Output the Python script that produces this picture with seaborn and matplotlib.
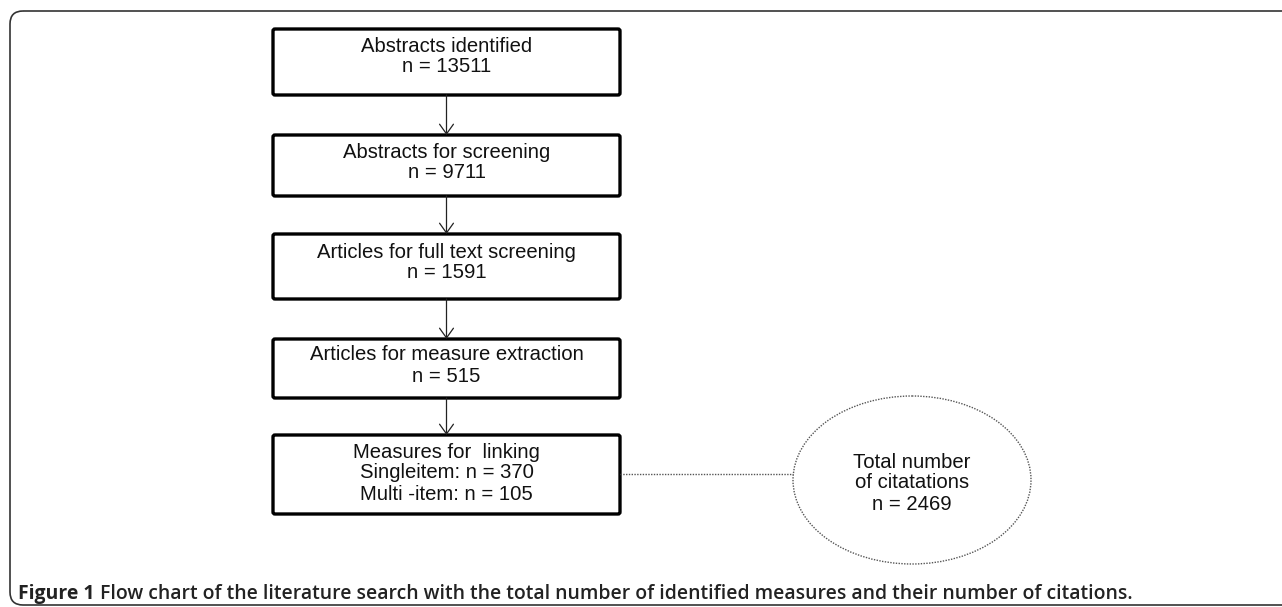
import seaborn as sns
import matplotlib.pyplot as plt
from matplotlib.patches import FancyBboxPatch, Ellipse

# flow chart content
stages = ["Abstracts identified", "Abstracts for screening",
          "Articles for full text screening", "Articles for measure extraction",
          "Measures for  linking"]
counts = [13511, 9711, 1591, 515]
single_item = 370
multi_item = 105
citations = 2469
caption_head = "Figure 1"
caption_body = ("Flow chart of the literature search with the total number of "
                "identified measures and their number of citations.")

# layout in pixel units (y down)
box_left, box_right = 273, 620
box_top = [29, 135, 234, 339, 435]
box_bottom = [95, 196, 299, 398, 514]
line_y = [[46, 67], [152, 173], [252, 273], [355, 377], [452, 473, 495]]
ell_cx, ell_cy, ell_w, ell_h = 912, 480, 238, 168
cap_left, cap_right = 18, 1130

sns.set_theme(style="white")
plt.rcParams['font.family'] = ['Liberation Sans', 'DejaVu Sans']

fig = plt.figure(figsize=(12.82, 6.07), dpi=100)
ax = fig.add_axes([0, 0, 1, 1])
ax.set_xlim(0, 1282)
ax.set_ylim(607, 0)
ax.axis('off')

# outer frame (open to the right / bottom)
frame = FancyBboxPatch((10, 11), 1400, 594, boxstyle="round,pad=0,rounding_size=13",
                       fill=False, ec='#333333', lw=1.2)
ax.add_patch(frame)

cx = (box_left + box_right) / 2
fs = 14.6
for i, label in enumerate(stages):
    rect = FancyBboxPatch((box_left, box_top[i]), box_right - box_left,
                          box_bottom[i] - box_top[i],
                          boxstyle="round,pad=0,rounding_size=2",
                          fill=False, ec='black', lw=2.4)
    ax.add_patch(rect)
    if i < len(counts):
        lines = [label, f"n = {counts[i]}"]
    else:
        lines = [label, f"Singleitem: n = {single_item}", f"Multi -item: n = {multi_item}"]
    for txt, y in zip(lines, line_y[i]):
        ax.text(cx, y, txt, ha='center', va='center', fontsize=fs, color='#111111')
    if i > 0:
        ax.annotate('', xy=(cx, box_top[i]), xytext=(cx, box_bottom[i - 1]),
                    arrowprops=dict(arrowstyle='->,head_length=7,head_width=5',
                                    mutation_scale=1, lw=0.9, color='#222222',
                                    shrinkA=0, shrinkB=0))

# dotted connector and ellipse
ax.plot([box_right, ell_cx - ell_w / 2], [474, 474], ls=(0, (1, 1)), lw=1.0, color='#555555')
ell = Ellipse((ell_cx, ell_cy), ell_w, ell_h, fill=False, ec='#555555', lw=1.0,
              ls=(0, (1, 1)))
ax.add_patch(ell)
for txt, y in zip(["Total number", "of citatations", f"n = {citations}"], [462, 483, 505]):
    ax.text(ell_cx, y, txt, ha='center', va='center', fontsize=fs, color='#111111')

# caption, sized to span the same width as in the figure
cap_fs = 12.0
t1 = ax.text(cap_left, 599, caption_head, ha='left', va='baseline', fontsize=cap_fs,
             fontweight='bold', family=['Open Sans', 'DejaVu Sans'], color='#222222')
t2 = ax.annotate(caption_body, xy=(1, 0), xycoords=t1, xytext=(4, 0),
                 textcoords='offset points', ha='left', va='bottom', fontsize=cap_fs,
                 fontweight='semibold', family=['Open Sans', 'DejaVu Sans'], color='#222222')
fig.canvas.draw()
x1 = t2.get_window_extent().x1
scale = (cap_right - cap_left) / (x1 - cap_left)
t1.set_fontsize(cap_fs * scale)
t2.set_fontsize(cap_fs * scale)

fig.savefig('out.png', dpi=100)
